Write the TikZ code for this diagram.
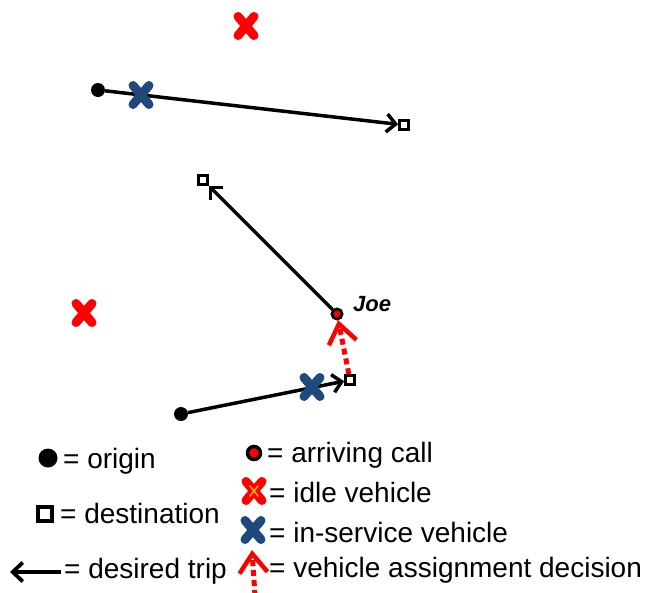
\documentclass[tikz,border=0pt]{standalone}
\usepackage{fontspec}
\setmainfont{Liberation Sans}
\usetikzlibrary{arrows.meta,shapes.misc}
\definecolor{xred}{RGB}{255,0,0}
\definecolor{xblue}{RGB}{31,73,125}
\definecolor{xorange}{RGB}{255,192,0}
\tikzset{
  origin/.style={circle, fill=black, inner sep=0pt, minimum size=14pt},
  dest/.style={draw=black, line width=2.8pt, fill=white, inner sep=0pt, minimum size=9pt},
  call/.style={circle, fill=xred, draw=black, line width=2.6pt, inner sep=0pt, minimum size=10pt},
  vx/.style={cross out, line width=9pt, line cap=round, inner sep=0pt, minimum width=7pt, minimum height=10pt},
  idle/.style={vx, draw=xred},
  busy/.style={vx, draw=xblue},
  trip/.style={draw=black, line width=3.5pt, -{Straight Barb[length=9pt,width=18pt]}},
  assign/.style={draw=xred, line width=5pt, dash pattern=on 6pt off 4pt,
    -{Straight Barb[length=19pt,width=28pt,line width=4.5pt]}},
  lbl/.style={font=\fontsize{28}{31}\selectfont, anchor=base west, inner sep=0pt},
}
\begin{document}
\begin{tikzpicture}[x=1pt,y=-1pt]
\useasboundingbox (0,0) rectangle (645,592);
\clip (0,0) rectangle (645,592);

% idle vehicles
\node[idle] (i1) at (246,26) {};
\node[idle] (i2) at (84,313) {};

% trip 1
\node[origin] (o1) at (98,90) {};
\node[dest] (d1) at (404,125) {};
\draw[trip] (o1) -- (d1);
\node[busy] (b1) at (141,95) {};

% trip 2 (Joe)
\node[dest] (d2) at (203,180) {};
\node[call] (joe) at (337,314) {};
\draw[trip] (joe) -- (d2);
\node[font=\fontsize{22}{25}\selectfont\bfseries\itshape, anchor=base west, inner sep=0pt] (joelbl) at (353,311) {Joe};

% trip 3
\node[origin] (o3) at (181,414) {};
\node[dest] (d3) at (350,380) {};
\draw[trip] (o3) -- (d3);
\node[busy] (b3) at (312,387) {};

% assignment decision
\draw[assign] (d3) -- (joe);
\node[call] (joe2) at (337,314) {};

% legend left
\node[origin, minimum size=19pt] (lo) at (48,458) {};
\node[lbl] (lot) at (63,468) {= origin};
\node[dest, minimum size=14pt, line width=3.2pt] (ld) at (45,514) {};
\node[lbl] (ldt) at (60,523) {= destination};
\coordinate (la1) at (61,572);
\coordinate (la2) at (10,572);
\draw[trip, line width=3.8pt, -{Straight Barb[length=10pt,width=19pt]}] (la1) -- (la2);
\node[lbl] (lat) at (64,578) {= desired trip};

% legend right
\node[call, minimum size=13pt, line width=3.5pt] (lc) at (254,453) {};
\node[lbl] (lct) at (267,462) {= arriving call};
\node[idle] (li) at (254,491) {};
\node[vx, draw=xorange, line width=1.4pt, minimum width=7pt, minimum height=9pt] (lio) at (254,491) {};
\node[lbl] (lit) at (269,502) {= idle vehicle};
\node[busy] (lb) at (253,530) {};
\node[lbl] (lbt) at (269,542) {= in-service vehicle};
\coordinate (lr1) at (255,596);
\coordinate (lr2) at (252,550);
\draw[assign] (lr1) -- (lr2);
\node[lbl] (lrt) at (269,577) {= vehicle assignment decision};
\end{tikzpicture}
\end{document}
